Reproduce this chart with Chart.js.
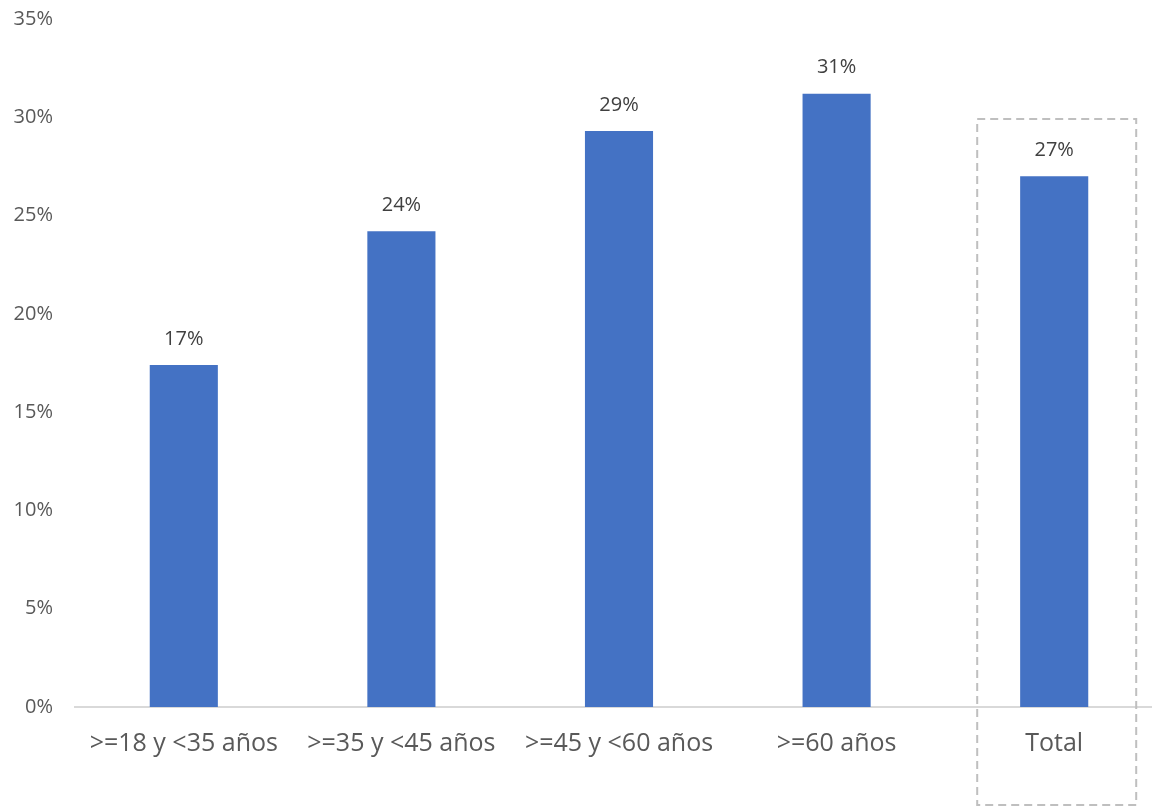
<!DOCTYPE html>
<html>
<head>
<meta charset="utf-8">
<script src="https://cdn.jsdelivr.net/npm/chart.js@4.4.0/dist/chart.umd.min.js"></script>
<style>
  html, body { margin: 0; padding: 0; background: #fff; overflow: hidden; }
  #wrap { width: 1163px; height: 809px; }
</style>
</head>
<body>
<div id="wrap"><canvas id="chart"></canvas></div>
<script>
// data
const categories = ['>=18 y <35 años', '>=35 y <45 años', '>=45 y <60 años', '>=60 años', 'Total'];
const shares = [17.4, 24.2, 29.3, 31.2, 27.0];
const shareLabels = ['17%', '24%', '29%', '31%', '27%'];
const yTicks = [0, 5, 10, 15, 20, 25, 30, 35];

const FONT = "'Open Sans', sans-serif";

// value labels above each bar
const barLabels = {
    id: 'barLabels',
    afterDatasetsDraw(chart) {
        const ctx = chart.ctx;
        const meta = chart.getDatasetMeta(0);
        ctx.save();
        ctx.font = '20px ' + FONT;
        ctx.fillStyle = '#404040';
        ctx.textAlign = 'center';
        ctx.textBaseline = 'middle';
        meta.data.forEach((bar, i) => {
            ctx.fillText(shareLabels[i], bar.x, bar.y - 26);
        });
        ctx.restore();
    }
};

// dashed frame around the Total column
const totalFrame = {
    id: 'totalFrame',
    afterDraw(chart) {
        const ctx = chart.ctx;
        const x = chart.scales.x;
        const cx = x.getPixelForValue(categories.length - 1);
        ctx.save();
        ctx.strokeStyle = '#bfbfbf';
        ctx.lineWidth = 2;
        ctx.setLineDash([8, 5]);
        ctx.strokeRect(cx - 77, chart.chartArea.top + 100, 159, 686);
        ctx.restore();
    }
};

new Chart(document.getElementById('chart'), {
    type: 'bar',
    data: {
        labels: categories,
        datasets: [{
            data: shares,
            backgroundColor: '#4472C4',
            barPercentage: 0.313,
            categoryPercentage: 1
        }]
    },
    options: {
        responsive: true,
        maintainAspectRatio: false,
        animation: false,
        layout: { padding: { top: 0, bottom: 28, left: 0, right: 0 } },
        plugins: {
            legend: { display: false },
            tooltip: { enabled: false }
        },
        scales: {
            x: {
                grid: { display: false, drawTicks: false },
                border: { display: true, color: '#d9d9d9', width: 2 },
                ticks: {
                    color: '#595959',
                    font: { family: FONT, size: 25 },
                    padding: 22,
                    maxRotation: 0,
                    autoSkip: false
                }
            },
            y: {
                min: 0,
                max: 35,
                afterFit(scale) {
                    scale.width = 75;
                    scale.paddingTop = 19;
                },
                afterBuildTicks(scale) { scale.ticks = yTicks.map(v => ({ value: v })); },
                grid: { display: false, drawTicks: false },
                border: { display: false },
                ticks: {
                    color: '#595959',
                    font: { family: FONT, size: 20 },
                    padding: 22,
                    callback: v => v + '%'
                }
            }
        }
    },
    plugins: [barLabels, totalFrame]
});
</script>
</body>
</html>
